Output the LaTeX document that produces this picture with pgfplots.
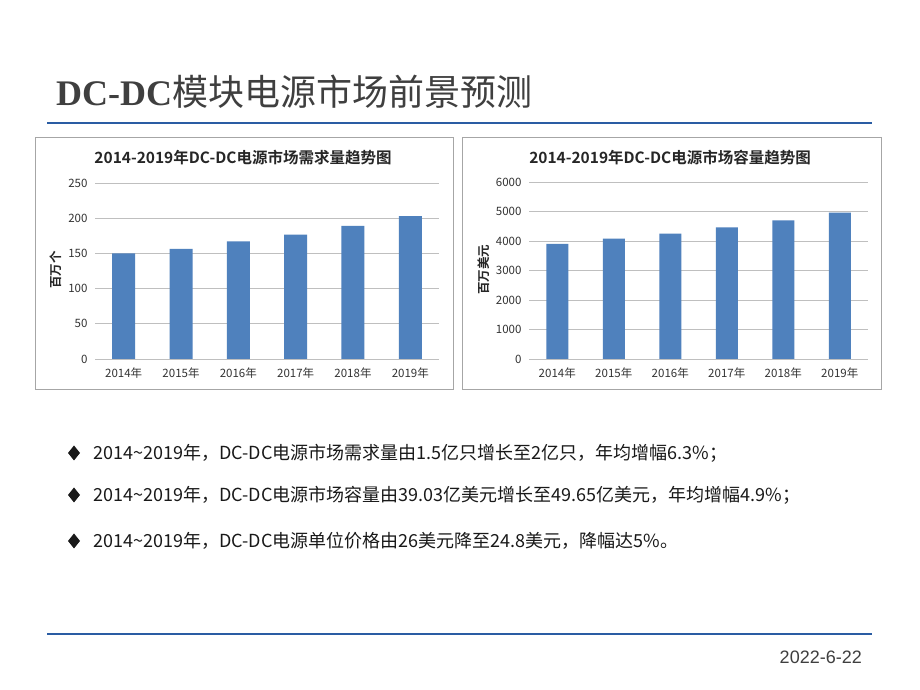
\documentclass[border=0pt]{standalone}
\usepackage{fontspec}
\usepackage{pgfplots}
\pgfplotsset{compat=1.18}
\setmainfont{Noto Sans CJK SC}[BoldFont={Noto Sans CJK SC Bold}]
\newfontfamily\serifbold{Liberation Serif}
\newfontfamily\datefont{Liberation Sans}

\definecolor{barblue}{HTML}{4F81BD}
\definecolor{rulblue}{HTML}{2A5CA3}
\definecolor{titlecol}{HTML}{3F3F3F}
\definecolor{tickcol}{HTML}{333333}
\definecolor{framecol}{HTML}{A6A6A6}
\definecolor{gridcol}{HTML}{BFBFBF}

\pgfplotsset{
  slidebar/.style={
    scale only axis,
    xmin=-0.5, xmax=5.5, ymin=0,
    xtick={0,...,5},
    xticklabels={2014年,2015年,2016年,2017年,2018年,2019年},
    axis lines*=left,
    axis line style={-},
    x axis line style={draw=gridcol, line width=0.8pt},
    y axis line style={draw=none},
    major tick length=0pt,
    tick style={draw=none},
    ymajorgrids,
    grid style={draw=gridcol, line width=0.8pt},
    /pgf/number format/assume math mode=true,
    /pgf/number format/1000 sep={},
    ticklabel style={font=\fontsize{11.5}{13}\selectfont, color=tickcol},
    yticklabel style={xshift=-4pt},
    xticklabel style={yshift=-5pt},
    clip=false,
  }
}

\begin{document}
\begin{tikzpicture}[x=1pt, y=1pt]
\fill[white] (0,0) rectangle (920,690);
\path[use as bounding box] (0,0) rectangle (920,690);

% slide title and rules
\node[anchor=base west, inner sep=0, color=titlecol, font=\fontsize{36}{38}\selectfont]
  at (56,584) {{\serifbold\bfseries DC-DC}模块电源市场前景预测};
\draw[rulblue, line width=2pt] (47,567) -- (872,567);
\draw[rulblue, line width=1.6pt] (47,56) -- (872,56);

% chart frames
\draw[framecol, line width=0.8pt] (35,301) rectangle (453,553);
\draw[framecol, line width=0.8pt] (462,301) rectangle (881,553);

% left chart
\begin{axis}[slidebar,
  at={(95pt,331pt)}, anchor=south west,
  width=344pt, height=176pt,
  ymax=250, ytick={0,50,...,250}]
\addplot[ybar, bar width=23pt, fill=barblue, draw=none]
  coordinates {(0,150) (1,156.5) (2,167) (3,176.5) (4,189) (5,203)};
\end{axis}
\node[font=\fontsize{15.5}{17}\selectfont\bfseries, color=black!85] at (243,532)
  {2014-2019年DC-DC电源市场需求量趋势图};
\node[rotate=90, font=\fontsize{12.5}{14}\selectfont\bfseries, color=black!85] at (56,420) {百万个};

% right chart
\begin{axis}[slidebar,
  at={(529pt,331pt)}, anchor=south west,
  width=339pt, height=177pt,
  ymax=6000, ytick={0,1000,...,6000}]
\addplot[ybar, bar width=22pt, fill=barblue, draw=none]
  coordinates {(0,3903) (1,4080) (2,4250) (3,4463) (4,4700) (5,4965)};
\end{axis}
\node[font=\fontsize{15.5}{17}\selectfont\bfseries, color=black!85] at (670,532)
  {2014-2019年DC-DC电源市场容量趋势图};
\node[rotate=90, font=\fontsize{12.5}{14}\selectfont\bfseries, color=black!85] at (484,420) {百万美元};

% bullet points
\foreach \yy in {237,195,149} {
  \fill[black!90] (74,\yy+7.5) -- (80,\yy) -- (74,\yy-7.5) -- (68,\yy) -- cycle;
}
\begin{scope}[every node/.style={anchor=base west, inner sep=0, color=black!90, font=\fontsize{18}{20}\selectfont}]
\node at (93,230) {2014\textasciitilde 2019年，DC-DC电源市场需求量由1.5亿只增长至2亿只，年均增幅6.3\%；};
\node at (93,188) {2014\textasciitilde 2019年，DC-DC电源市场容量由39.03亿美元增长至49.65亿美元，年均增幅4.9\%；};
\node at (93,142) {2014\textasciitilde 2019年，DC-DC电源单位价格由26美元降至24.8美元，降幅达5\%。};
\end{scope}

% date
\node[anchor=base east, inner sep=0, color=titlecol, font=\datefont\fontsize{18}{20}\selectfont]
  at (862,27) {2022-6-22};
\end{tikzpicture}
\end{document}
